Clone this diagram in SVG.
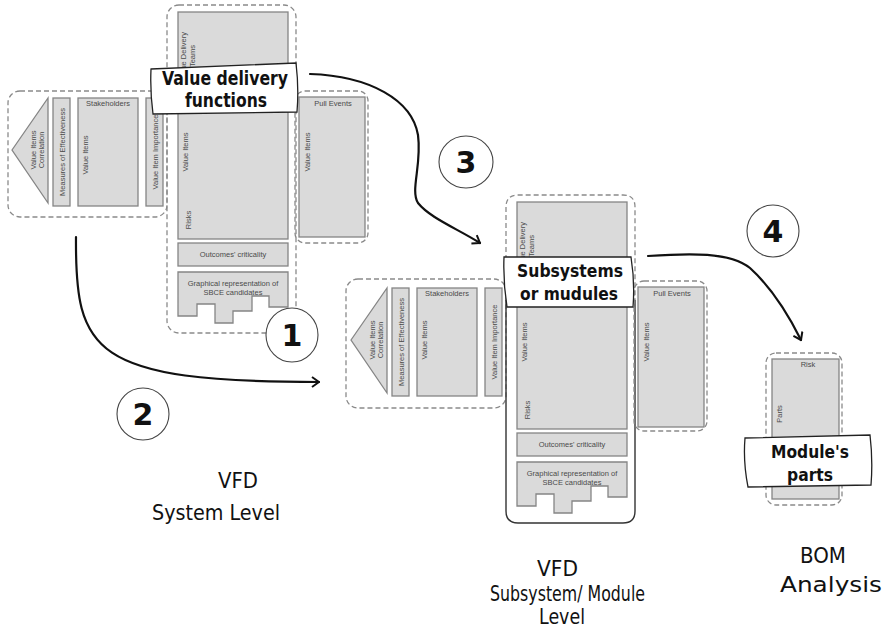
<svg xmlns="http://www.w3.org/2000/svg" width="884" height="631" viewBox="0 0 884 631">
  <defs>
    <style>
      .frame { fill: none; stroke: #8a8a8a; stroke-width: 1.3; stroke-dasharray: 5 3; }
      .solid { fill: none; stroke: #333; stroke-width: 1.4; }
      .cell { fill: #dadada; stroke: #858585; stroke-width: 1.3; }
      .tiny { font-family: "Liberation Sans", Arial, sans-serif; font-size: 7.5px; fill: #4a4a4a; }
      .mid { text-anchor: middle; }
      .tag { fill: #fff; stroke: #222; stroke-width: 1.3; }
      .tagtext { font-family: "DejaVu Sans", sans-serif; font-weight: bold; font-size: 19px; fill: #111; text-anchor: middle; }
      .tagsm { font-size: 17.5px; }
      .badge { fill: #fff; stroke: #444; stroke-width: 1.1; }
      .num { font-family: "DejaVu Sans", sans-serif; font-weight: bold; font-size: 30px; fill: #111; text-anchor: middle; }
      .caption { font-family: "DejaVu Sans", sans-serif; font-size: 22px; fill: #111; }
      .link { fill: none; stroke: #111; stroke-width: 2.2; stroke-linecap: round; }
    </style>
    <marker id="chevron" markerUnits="userSpaceOnUse" markerWidth="14" markerHeight="14" refX="9" refY="6" orient="auto">
      <path d="M2,1 L9,6 L2,11" fill="none" stroke="#111" stroke-width="2" stroke-linejoin="round"/>
    </marker>
  </defs>
  <rect width="884" height="631" fill="#fff"/>

  <!-- System level VFD: stakeholder block -->
  <g id="sys-stakeholders">
    <rect class="frame" x="8" y="91" width="159" height="126" rx="12"/>
    <polygon class="cell" points="12,150 48,98 48,203"/>
    <text class="tiny mid" transform="translate(36,150) rotate(-90)">Value Items</text>
    <text class="tiny mid" transform="translate(44,150) rotate(-90)">Correlation</text>
    <rect class="cell" x="53" y="98" width="17" height="108"/>
    <text class="tiny mid" transform="translate(64.5,152) rotate(-90)">Measures of Effectiveness</text>
    <rect class="cell" x="78" y="98" width="60" height="108"/>
    <text class="tiny mid" x="108" y="106">Stakeholders</text>
    <text class="tiny mid" transform="translate(88,155) rotate(-90)">Value Items</text>
    <rect class="cell" x="146" y="98" width="17" height="108"/>
    <text class="tiny mid" transform="translate(157.5,152) rotate(-90)">Value Item Importance</text>
  </g>

  <!-- System level VFD: central column -->
  <g id="sys-core">
    <rect class="frame" x="167" y="5" width="129" height="328" rx="12"/>
    <rect class="cell" x="178" y="12" width="110" height="227"/>
    <text class="tiny mid" transform="translate(186,56) rotate(-90)">Value Delivery</text>
    <text class="tiny mid" transform="translate(195,56) rotate(-90)">Teams</text>
    <text class="tiny mid" transform="translate(188,152) rotate(-90)">Value Items</text>
    <text class="tiny mid" transform="translate(191,220) rotate(-90)">Risks</text>
    <rect class="cell" x="178" y="243" width="110" height="23"/>
    <text class="tiny mid" x="233" y="257">Outcomes' criticality</text>
    <path class="cell" d="M178,272 H288 V307 H269 V296 H252 V311 H233 V323 H215 V304 H197 V316 H178 Z"/>
    <text class="tiny mid" x="233" y="286">Graphical representation of</text>
    <text class="tiny mid" x="233" y="295">SBCE candidates</text>
  </g>

  <!-- System level VFD: pull events -->
  <g id="sys-pull">
    <rect class="frame" x="295" y="91" width="73" height="152" rx="10"/>
    <rect class="cell" x="299" y="97" width="66" height="140"/>
    <text class="tiny mid" x="333" y="106">Pull Events</text>
    <text class="tiny mid" transform="translate(310,152) rotate(-90)">Value Items</text>
  </g>

  <!-- Subsystem level VFD: stakeholder block -->
  <g id="sub-stakeholders">
    <rect class="frame" x="346" y="279" width="160" height="129" rx="12"/>
    <polygon class="cell" points="351,340 387,288 387,393"/>
    <text class="tiny mid" transform="translate(375,340) rotate(-90)">Value Items</text>
    <text class="tiny mid" transform="translate(383,340) rotate(-90)">Correlation</text>
    <rect class="cell" x="392" y="288" width="17" height="108"/>
    <text class="tiny mid" transform="translate(403.5,342) rotate(-90)">Measures of Effectiveness</text>
    <rect class="cell" x="417" y="288" width="60" height="108"/>
    <text class="tiny mid" x="447" y="296">Stakeholders</text>
    <text class="tiny mid" transform="translate(427,340) rotate(-90)">Value Items</text>
    <rect class="cell" x="485" y="288" width="17" height="108"/>
    <text class="tiny mid" transform="translate(496.5,342) rotate(-90)">Value Item Importance</text>
  </g>

  <!-- Subsystem level VFD: central column -->
  <g id="sub-core">
    <path class="frame" d="M506,300 V207 Q506,195 518,195 H623 Q635,195 635,207 V300"/>
    <path class="solid" d="M506,300 V511 Q506,523 518,523 H623 Q635,523 635,511 V300"/>
    <rect class="cell" x="517" y="202" width="110" height="227"/>
    <text class="tiny mid" transform="translate(525,246) rotate(-90)">Value Delivery</text>
    <text class="tiny mid" transform="translate(534,246) rotate(-90)">Teams</text>
    <text class="tiny mid" transform="translate(527,342) rotate(-90)">Value Items</text>
    <text class="tiny mid" transform="translate(530,410) rotate(-90)">Risks</text>
    <rect class="cell" x="517" y="433" width="110" height="23"/>
    <text class="tiny mid" x="572" y="447">Outcomes' criticality</text>
    <path class="cell" d="M517,462 H627 V497 H608 V486 H591 V501 H572 V513 H554 V494 H536 V506 H517 Z"/>
    <text class="tiny mid" x="572" y="476">Graphical representation of</text>
    <text class="tiny mid" x="572" y="485">SBCE candidates</text>
  </g>

  <!-- Subsystem level VFD: pull events -->
  <g id="sub-pull">
    <rect class="frame" x="634" y="281" width="73" height="150" rx="10"/>
    <rect class="cell" x="638" y="287" width="66" height="140"/>
    <text class="tiny mid" x="672" y="296">Pull Events</text>
    <text class="tiny mid" transform="translate(649,342) rotate(-90)">Value Items</text>
  </g>

  <!-- Bill of materials column -->
  <g id="bom">
    <rect class="frame" x="766" y="353" width="76" height="152" rx="10"/>
    <rect class="cell" x="772" y="359" width="67" height="140"/>
    <text class="tiny mid" x="808" y="367">Risk</text>
    <text class="tiny mid" transform="translate(782,414) rotate(-90)">Parts</text>
  </g>

  <!-- Connectors -->
  <g id="connectors">
    <path class="link" d="M76,237 C75,352 92,382 319,382" marker-end="url(#chevron)"/>
    <path class="link" d="M310,74 C370,76 412,100 418,135 C422,165 410,190 418,203 C430,218 458,229 480,243" marker-end="url(#chevron)"/>
    <path class="link" d="M648,256 C690,253 730,252 750,268 C772,288 790,318 801,340" marker-end="url(#chevron)"/>
  </g>

  <!-- Callout tags -->
  <g id="tag-value-delivery">
    <path class="tag" d="M151,69 L296,63 Q299,88 297,112 L153,114 Q150,92 151,69 Z"/>
    <text class="tagtext" x="225" y="85" textLength="126" lengthAdjust="spacingAndGlyphs">Value delivery</text>
    <text class="tagtext" x="226" y="107" textLength="82" lengthAdjust="spacingAndGlyphs">functions</text>
  </g>
  <g id="tag-subsystems">
    <path class="tag" d="M504,257 L631,257 Q635,282 633,307 L507,307 Q503,282 504,257 Z"/>
    <text class="tagtext tagsm" x="570" y="277" textLength="106" lengthAdjust="spacingAndGlyphs">Subsystems</text>
    <text class="tagtext tagsm" x="569" y="300" textLength="98" lengthAdjust="spacingAndGlyphs">or mudules</text>
  </g>
  <g id="tag-parts">
    <path class="tag" d="M745,438 L870,435 Q873,460 871,485 L748,487 Q743,462 745,438 Z"/>
    <text class="tagtext tagsm" x="810" y="458" textLength="78" lengthAdjust="spacingAndGlyphs">Module's</text>
    <text class="tagtext tagsm" x="810" y="481" textLength="46" lengthAdjust="spacingAndGlyphs">parts</text>
  </g>

  <!-- Step badges -->
  <g id="step-1">
    <ellipse class="badge" cx="292" cy="335" rx="26" ry="27"/>
    <text class="num" x="292" y="346">1</text>
  </g>
  <g id="step-2">
    <ellipse class="badge" cx="143" cy="414" rx="26" ry="26"/>
    <text class="num" x="143" y="425">2</text>
  </g>
  <g id="step-3">
    <ellipse class="badge" cx="466" cy="162" rx="27" ry="26"/>
    <text class="num" x="466" y="173">3</text>
  </g>
  <g id="step-4">
    <ellipse class="badge" cx="773" cy="231" rx="26" ry="26"/>
    <text class="num" x="773" y="242">4</text>
  </g>

  <!-- Captions -->
  <g id="caption-system">
    <text class="caption" x="218" y="488" textLength="40" lengthAdjust="spacingAndGlyphs">VFD</text>
    <text class="caption" x="152" y="520" textLength="128" lengthAdjust="spacingAndGlyphs">System Level</text>
  </g>
  <g id="caption-subsystem">
    <text class="caption" x="537" y="576" textLength="41" lengthAdjust="spacingAndGlyphs">VFD</text>
    <text class="caption" x="490" y="601" textLength="155" lengthAdjust="spacingAndGlyphs">Subsystem/ Module</text>
    <text class="caption" x="539" y="624" textLength="46" lengthAdjust="spacingAndGlyphs">Level</text>
  </g>
  <g id="caption-bom">
    <text class="caption" x="800" y="563" textLength="46" lengthAdjust="spacingAndGlyphs">BOM</text>
    <text class="caption" x="780" y="592" textLength="102" lengthAdjust="spacingAndGlyphs">Analysis</text>
  </g>
</svg>
